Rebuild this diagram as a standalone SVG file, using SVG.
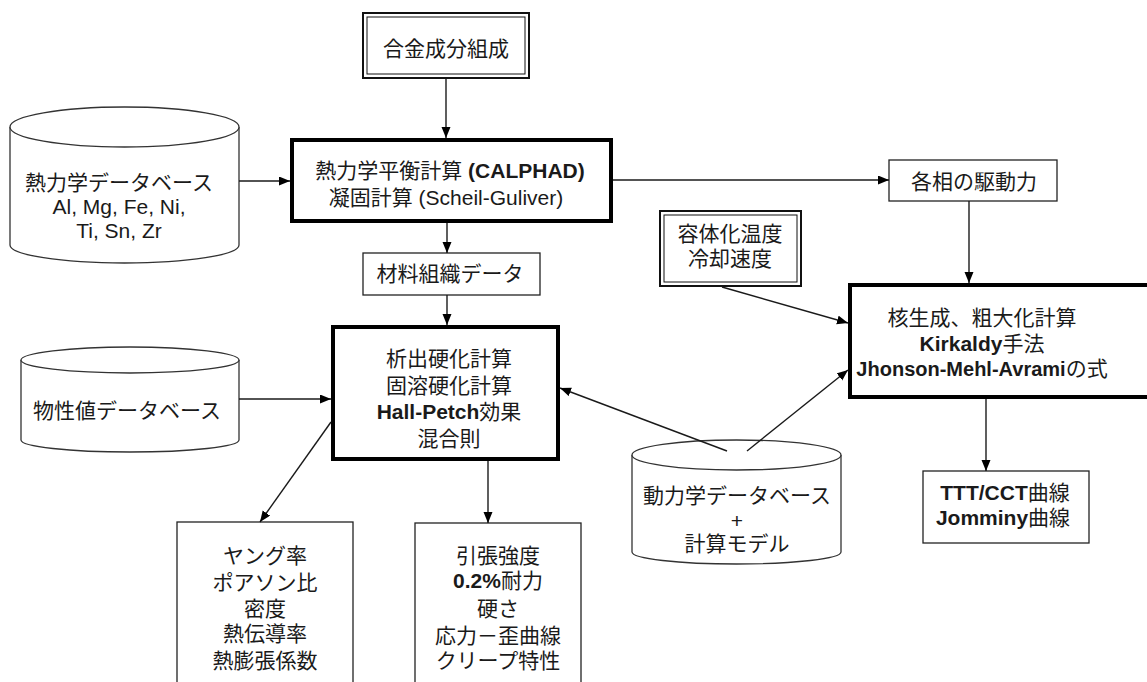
<svg xmlns="http://www.w3.org/2000/svg" width="1147" height="682" viewBox="0 0 1147 682">
<style>
text{font-family:"Liberation Sans","Noto Sans CJK JP",sans-serif;font-size:21px;fill:#1a1a1a;text-anchor:middle}
.b{font-weight:bold}
.thin{fill:#fff;stroke:#222;stroke-width:1.3}
.thick{fill:#fff;stroke:#000;stroke-width:4}
.dbl1{fill:#fff;stroke:#111;stroke-width:2}
.dbl2{fill:none;stroke:#111;stroke-width:1}
.cyl{fill:#fff;stroke:#333;stroke-width:1.3}
.conn line{stroke:#1a1a1a;stroke-width:1.4;marker-end:url(#ah)}
</style>
<defs>
<marker id="ah" markerUnits="userSpaceOnUse" markerWidth="12" markerHeight="10" refX="11" refY="4.5" orient="auto">
<path d="M0,0 L11,4.5 L0,9 z" fill="#000"/>
</marker>
</defs>
<rect width="1147" height="682" fill="#fff"/>

<g id="n-alloy">
<rect class="dbl1" x="363" y="13" width="166" height="65"/>
<rect class="dbl2" x="367" y="17" width="158" height="57"/>
<text x="446" y="56">合金成分組成</text>
</g>

<g id="n-thermodb">
<path class="cyl" d="M10,127 L10,245 A114.5,18 0 0 0 239,245 L239,127"/>
<ellipse class="cyl" cx="124.5" cy="127" rx="114.5" ry="20"/>
<text x="119" y="190">熱力学データベース</text>
<text x="119" y="214">Al, Mg, Fe, Ni,</text>
<text x="119" y="238">Ti, Sn, Zr</text>
</g>

<g id="n-calphad">
<rect class="thick" x="292" y="140" width="319" height="81"/>
<text x="450" y="178">熱力学平衡計算 <tspan class="b">(CALPHAD)</tspan></text>
<text x="446" y="205">凝固計算 (Scheil-Guliver)</text>
</g>

<g id="n-micro">
<rect class="thin" x="363" y="253" width="177" height="42"/>
<text x="450" y="281">材料組織データ</text>
</g>

<g id="n-drive">
<rect class="thin" x="889" y="160" width="168" height="41"/>
<text x="974" y="189">各相の駆動力</text>
</g>

<g id="n-heat">
<rect class="dbl1" x="660" y="211" width="141" height="75"/>
<rect class="dbl2" x="664" y="215" width="133" height="67"/>
<text x="730" y="241">容体化温度</text>
<text x="730" y="266">冷却速度</text>
</g>

<g id="n-nucl">
<rect class="thick" x="850" y="285" width="310" height="112"/>
<text x="982" y="325">核生成、粗大化計算</text>
<text x="982" y="351"><tspan class="b">Kirkaldy</tspan>手法</text>
<text x="982" y="376"><tspan class="b" style="font-size:20px">Jhonson-Mehl-Avrami</tspan>の式</text>
</g>

<g id="n-propdb">
<path class="cyl" d="M21,360 L21,440 A109,12 0 0 0 239,440 L239,360"/>
<ellipse class="cyl" cx="130" cy="360" rx="109" ry="13"/>
<text x="127" y="418">物性値データベース</text>
</g>

<g id="n-harden">
<rect class="thick" x="333" y="327" width="225" height="132"/>
<text x="449" y="366">析出硬化計算</text>
<text x="449" y="393">固溶硬化計算</text>
<text x="449" y="419"><tspan class="b">Hall-Petch</tspan>効果</text>
<text x="449" y="446">混合則</text>
</g>

<g id="n-kindb">
<path class="cyl" d="M632,455 L632,552 A104.5,12 0 0 0 841,552 L841,455"/>
<ellipse class="cyl" cx="736.5" cy="455" rx="104.5" ry="15"/>
<text x="737" y="503">動力学データベース</text>
<text x="737" y="528">+</text>
<text x="737" y="551">計算モデル</text>
</g>

<g id="n-elastic">
<rect class="thin" x="177" y="522" width="176" height="180"/>
<text x="265" y="563">ヤング率</text>
<text x="265" y="590">ポアソン比</text>
<text x="265" y="616">密度</text>
<text x="265" y="641">熱伝導率</text>
<text x="265" y="668">熱膨張係数</text>
</g>

<g id="n-strength">
<rect class="thin" x="415" y="523" width="166" height="180"/>
<text x="498" y="563">引張強度</text>
<text x="498" y="588"><tspan class="b">0.2%</tspan>耐力</text>
<text x="498" y="616">硬さ</text>
<text x="498" y="643">応力－歪曲線</text>
<text x="498" y="668">クリープ特性</text>
</g>

<g id="n-ttt">
<rect class="thin" x="923" y="471" width="166" height="72"/>
<text x="1005" y="500"><tspan class="b">TTT/CCT</tspan>曲線</text>
<text x="1003" y="525"><tspan class="b">Jomminy</tspan>曲線</text>
</g>

<g id="connectors" class="conn">
<line x1="446" y1="79" x2="446" y2="138"/>
<line x1="239" y1="181" x2="290" y2="181"/>
<line x1="447" y1="223" x2="447" y2="253"/>
<line x1="447" y1="295" x2="447" y2="325"/>
<line x1="613" y1="180" x2="889" y2="180"/>
<line x1="969" y1="201" x2="969" y2="283"/>
<line x1="722" y1="287" x2="848" y2="323"/>
<line x1="747" y1="451" x2="848" y2="370"/>
<line x1="727" y1="451" x2="560" y2="388"/>
<line x1="239" y1="399" x2="331" y2="399"/>
<line x1="331" y1="422" x2="260" y2="522"/>
<line x1="488" y1="461" x2="488" y2="523"/>
<line x1="986" y1="399" x2="986" y2="471"/>
</g>
</svg>
